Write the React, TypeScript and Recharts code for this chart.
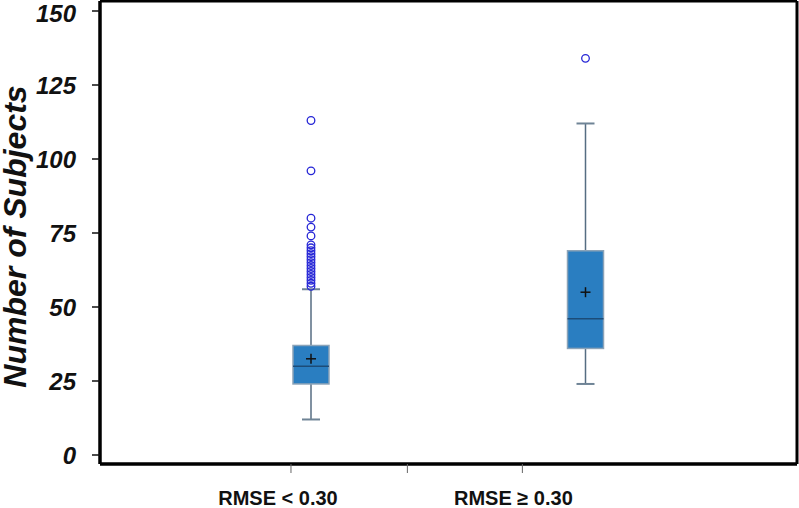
import { Bar, CartesianGrid, ComposedChart, XAxis, YAxis } from "recharts";

const categories = ["RMSE < 0.30", "RMSE ≥ 0.30"];
const whiskerLow = [12, 24];
const q1 = [24, 36];
const medians = [30, 46];
const q3 = [37, 69];
const whiskerHigh = [56, 112];
const means = [32.5, 55];
const outliers = [
  [113, 96, 80, 77, 74, 71, 70, 69, 68, 67, 66, 65, 64, 63, 62, 61, 60, 59, 58, 57],
  [134],
];
const yTicks = [0, 25, 50, 75, 100, 125, 150];
// tick marks under the plot sit off the box centres in the original
const xTickSpots = [0.274, 0.441, 0.606];
const xTickLabels = [categories[0], "", categories[1]];
const labelShift = [-13, 0, -9];

const rows = categories.map((name, i) => ({
  name,
  min: whiskerLow[i],
  q1: q1[i],
  median: medians[i],
  q3: q3[i],
  max: whiskerHigh[i],
  mean: means[i],
  outliers: outliers[i],
  range: [whiskerLow[i], Math.max(whiskerHigh[i], ...outliers[i])],
}));

const frame = { stroke: "#000", strokeWidth: 3 };

function BoxShape(props: any) {
  const { x, y, width, height, payload } = props;
  const top = Math.min(y, y + height);
  const bottom = Math.max(y, y + height);
  const [lo, hi] = payload.range;
  const py = (v: number) => bottom - ((v - lo) / (hi - lo)) * (bottom - top);
  const cx = x + width / 2;
  const cap = 9;
  const m = py(payload.mean);
  return (
    <g>
      <line x1={cx} x2={cx} y1={py(payload.min)} y2={py(payload.max)} stroke="#566d82" strokeWidth={1.5} />
      <line x1={cx - cap} x2={cx + cap} y1={py(payload.min)} y2={py(payload.min)} stroke="#6f8496" strokeWidth={2} />
      <line x1={cx - cap} x2={cx + cap} y1={py(payload.max)} y2={py(payload.max)} stroke="#6f8496" strokeWidth={2} />
      <rect
        x={x}
        y={py(payload.q3)}
        width={width}
        height={py(payload.q1) - py(payload.q3)}
        fill="#2a7ec1"
        stroke="#8ba3b8"
        strokeWidth={1.5}
      />
      <line x1={x} x2={x + width} y1={py(payload.median)} y2={py(payload.median)} stroke="#1c4c78" strokeWidth={1.5} />
      <line x1={cx - 5} x2={cx + 5} y1={m} y2={m} stroke="#111" strokeWidth={1.5} />
      <line x1={cx} x2={cx} y1={m - 5} y2={m + 5} stroke="#111" strokeWidth={1.5} />
      {payload.outliers.map((v: number, k: number) => (
        <circle key={k} cx={cx} cy={py(v)} r={3.8} fill="none" stroke="#2626d6" strokeWidth={1.3} />
      ))}
    </g>
  );
}

function XTick(props: any) {
  const { x, y, index } = props;
  return (
    <text
      x={x + labelShift[index]}
      y={y + 30}
      textAnchor="middle"
      fontFamily="Liberation Sans, Arial, sans-serif"
      fontWeight="bold"
      fontSize={20}
      fill="#111"
    >
      {xTickLabels[index]}
    </text>
  );
}

function YLabel(props: any) {
  const { viewBox } = props;
  const cy = viewBox.y + viewBox.height / 2 + 4;
  return (
    <text
      transform={`translate(26, ${cy}) rotate(-90)`}
      textAnchor="middle"
      fontFamily="Liberation Sans, Arial, sans-serif"
      fontWeight="bold"
      fontStyle="italic"
      fontSize={32}
      fill="#111"
    >
      Number of Subjects
    </text>
  );
}

export default function App() {
  return (
    <div style={{ position: "absolute", left: 0, top: 0, background: "#fff" }}>
      <ComposedChart width={799} height={508} data={rows} margin={{ top: 1, right: 2, bottom: 1, left: 0 }}>
        {/* plot frame: one grid line on each edge of the plot area */}
        <CartesianGrid
          stroke="#000"
          strokeWidth={3}
          horizontalCoordinatesGenerator={({ offset }: any) => [offset.top, offset.top + offset.height]}
          verticalCoordinatesGenerator={({ offset }: any) => [offset.left, offset.left + offset.width]}
        />
        <XAxis xAxisId="cat" dataKey="name" hide height={0} padding={{ left: 74, right: 74 }} />
        <XAxis
          xAxisId="lab"
          type="number"
          domain={[0, 1]}
          allowDataOverflow
          ticks={xTickSpots}
          height={43}
          axisLine={frame}
          tickSize={9}
          tickLine={{ stroke: "#666", strokeWidth: 1 }}
          tick={<XTick />}
          interval={0}
        />
        <YAxis
          domain={[0, 150]}
          ticks={yTicks}
          width={100}
          padding={{ top: 10, bottom: 9 }}
          axisLine={frame}
          tickSize={8}
          tickMargin={16}
          tickLine={{ stroke: "#111", strokeWidth: 1.5 }}
          tick={{
            fontFamily: "Liberation Sans, Arial, sans-serif",
            fontWeight: "bold",
            fontStyle: "italic",
            fontSize: 24,
            fill: "#111",
          }}
          label={<YLabel />}
        />
        <Bar
          xAxisId="cat"
          dataKey={(d: any) => d.range}
          barSize={36}
          shape={<BoxShape />}
          isAnimationActive={false}
        />
      </ComposedChart>
    </div>
  );
}
